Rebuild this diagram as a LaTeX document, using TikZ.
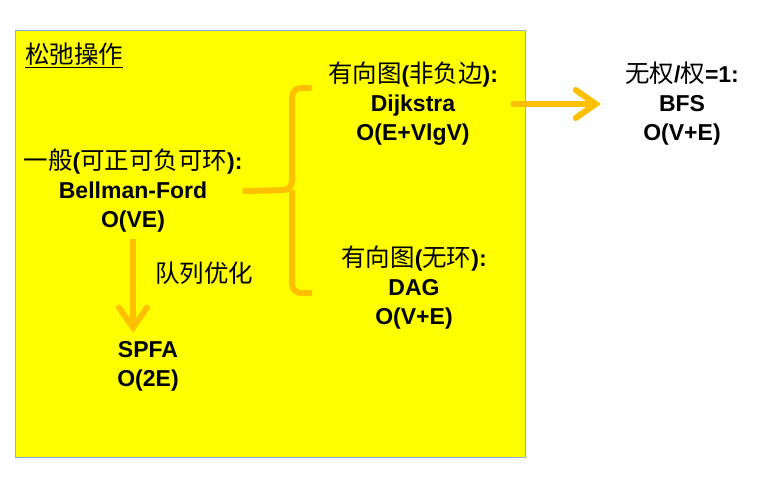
\documentclass[tikz,border=0pt]{standalone}
\usepackage{fontspec}
\setmainfont{Liberation Sans}
\newfontfamily\cjk{Noto Sans CJK SC}
\newcommand{\zh}[1]{{\cjk\mdseries\fontsize{24.5}{29}\selectfont #1}}
\usetikzlibrary{arrows.meta}
\definecolor{padyellow}{RGB}{255,255,0}
\definecolor{padframe}{RGB}{150,170,215}
\definecolor{braceorange}{RGB}{255,192,0}
\begin{document}
\begin{tikzpicture}[
    x=1pt, y=-1pt,
    algo/.style={align=center, inner sep=0pt, font=\fontsize{23}{29}\selectfont\bfseries},
    oarr/.style={-{Straight Barb[length=20pt, width=28pt, line cap=round]}, line width=6pt, braceorange},
    brace/.style={line width=6pt, braceorange, rounded corners=9pt}
  ]
  \useasboundingbox (0,0) rectangle (768,495);

  %% -- yellow pad --
  \fill[padyellow] (15,30) rectangle (525,457);
  \draw[padframe, line width=0.8pt] (15,30) rectangle (525,457);
  \node[anchor=west, inner sep=0pt] (title) at (25,55) {\underline{\zh{松弛操作}}};

  %% -- algorithms --
  \node[algo] (bellman) at (133,191) {\zh{一般}(\zh{可正可负可环}):\\Bellman-Ford\\O(VE)};
  \node[algo] (spfa) at (148,366) {SPFA\\O(2E)};
  \node[algo] (dijkstra) at (413,104) {\zh{有向图}(\zh{非负边}):\\Dijkstra\\O(E+VlgV)};
  \node[algo] (dag) at (414,288) {\zh{有向图}(\zh{无环}):\\DAG\\O(V+E)};
  \node[algo] (bfs) at (682,104) {\zh{无权}/\zh{权}=1:\\BFS\\O(V+E)};
  \node[inner sep=0pt] (qlabel) at (204,273) {\zh{队列优化}};

  %% -- brace --
  \coordinate (btop) at (312,88);
  \coordinate (bbot) at (312,293);
  \draw[brace] (btop) -- (292,88) -- (292,190) -- (bellman.east);
  \draw[brace] (bbot) -- (292,293) -- (292,190);

  %% -- arrows --
  \draw[oarr, shorten <=6pt, shorten >=8pt] (bellman.south) -- (bellman.south |- spfa.north);
  \draw[oarr, shorten <=13pt, shorten >=24pt] (dijkstra.east) -- (bfs.west |- dijkstra.east);

\end{tikzpicture}
\end{document}
